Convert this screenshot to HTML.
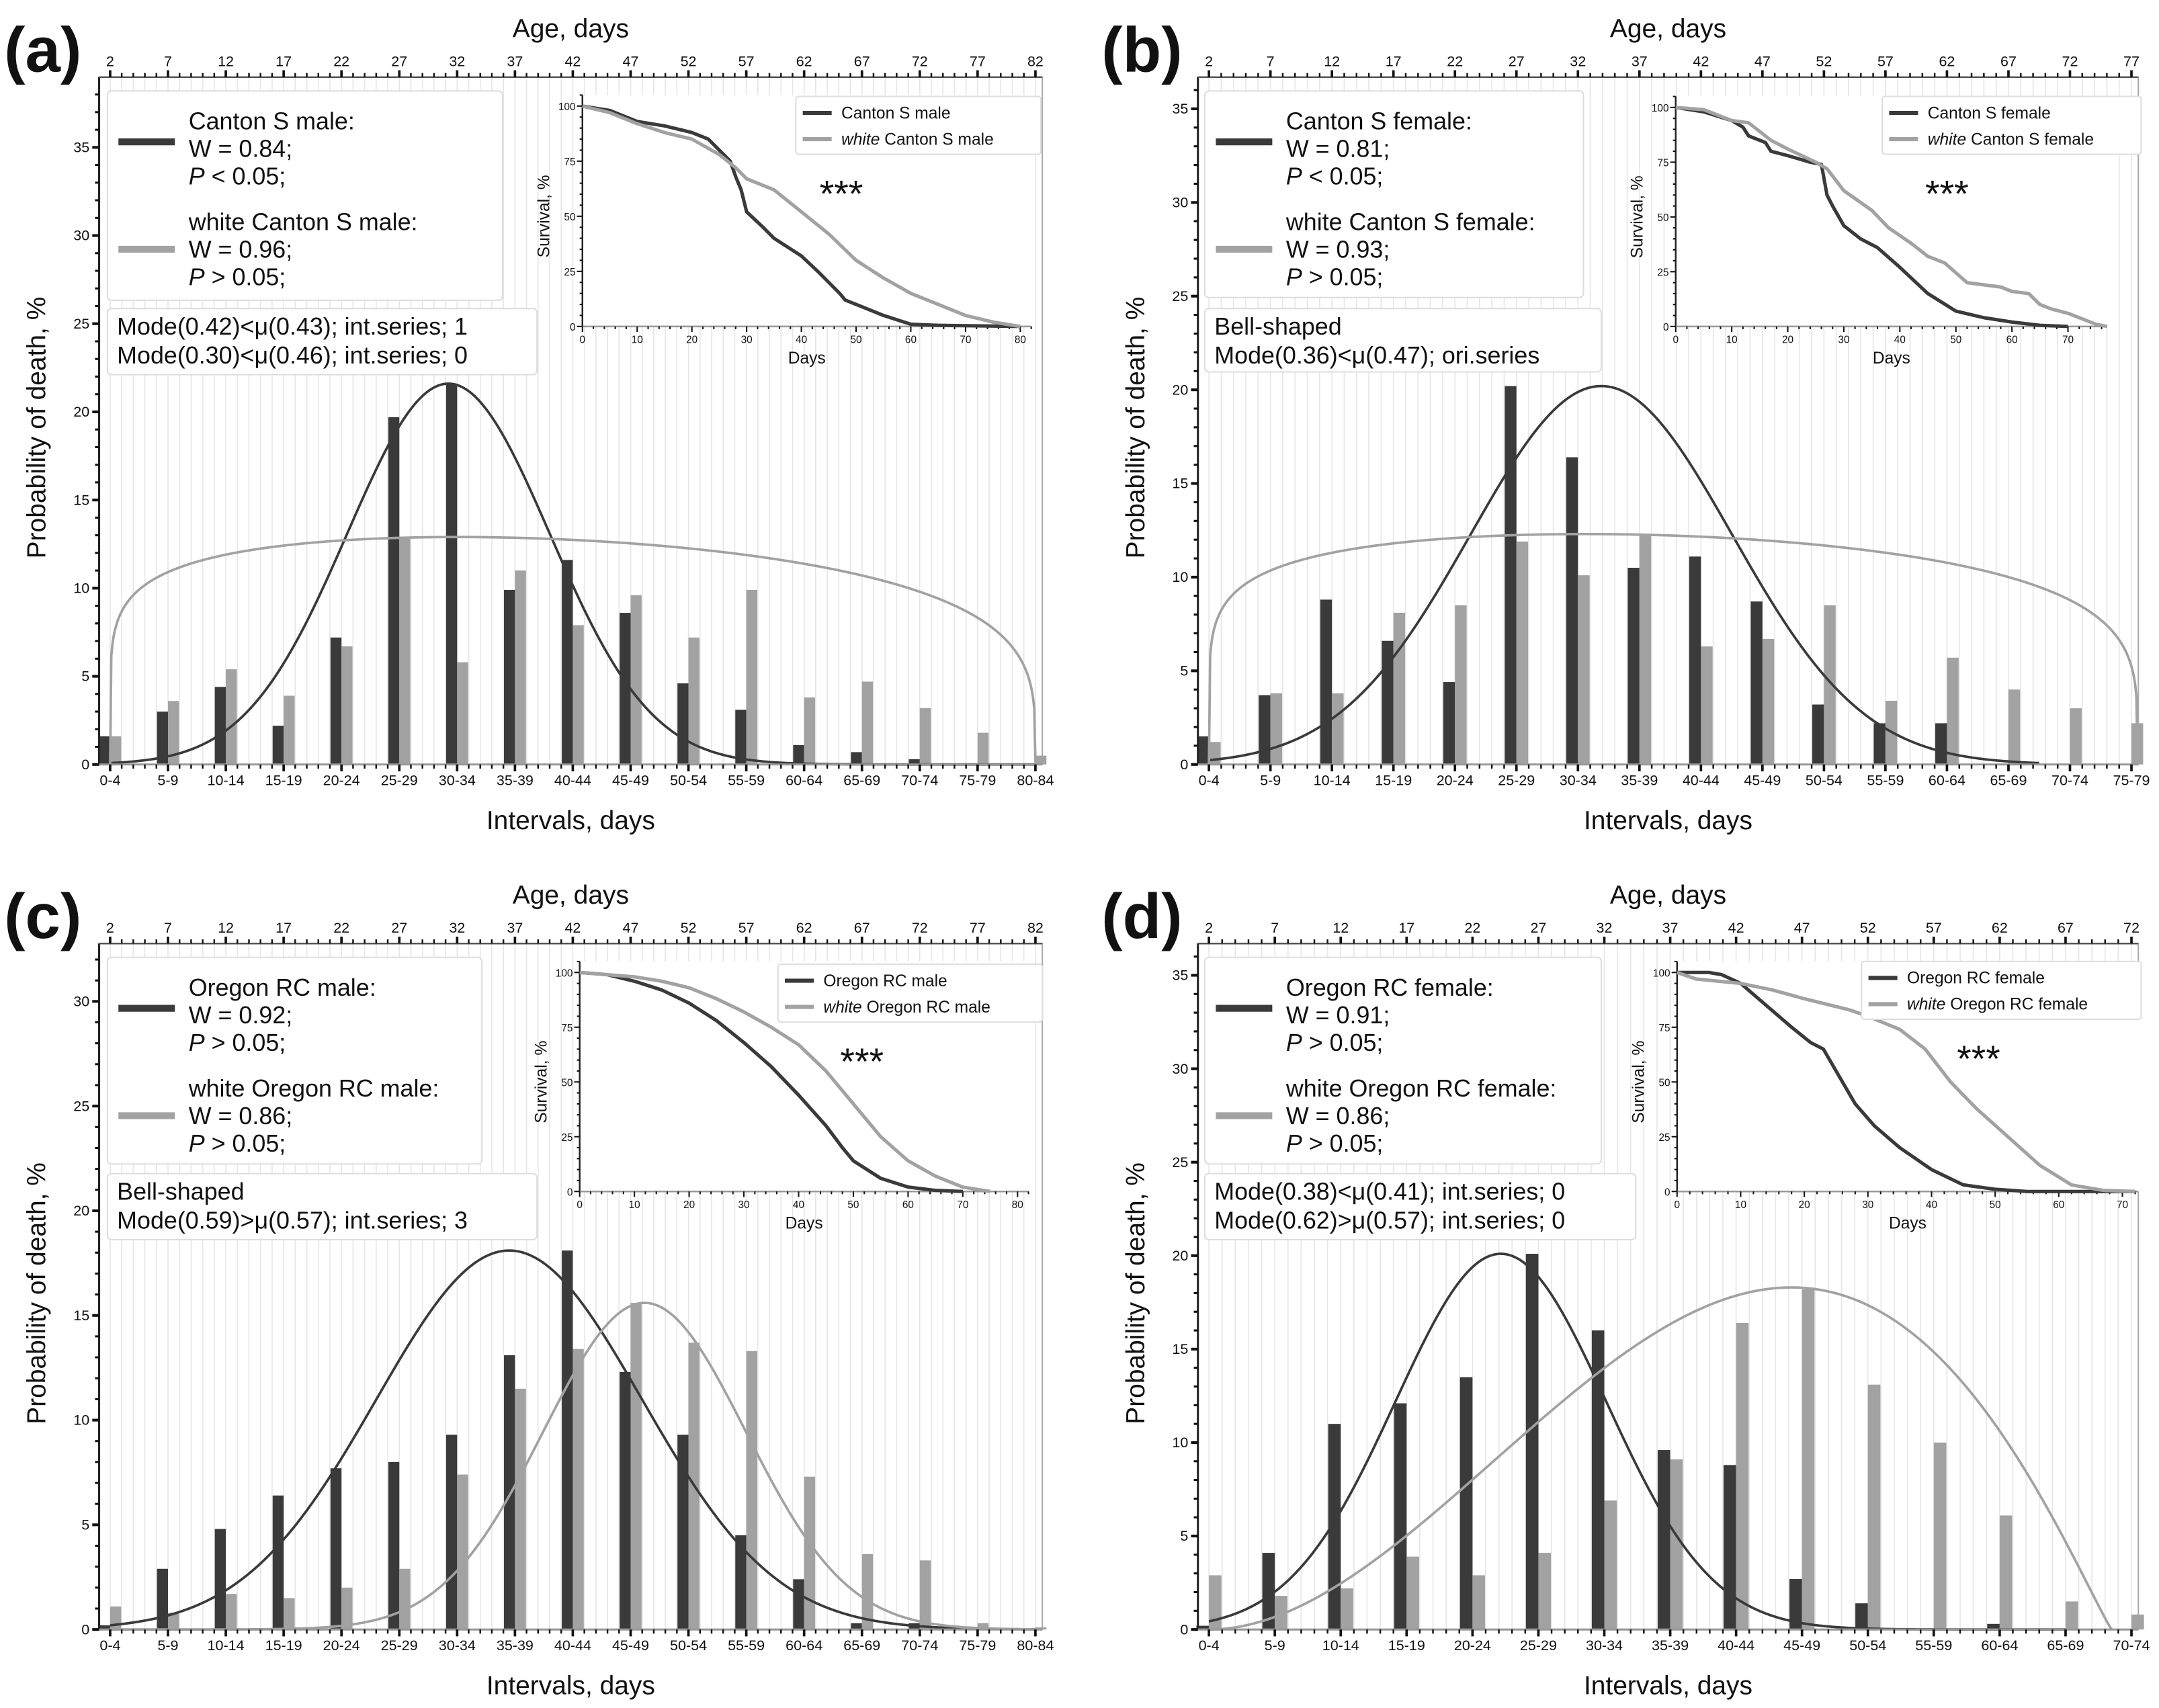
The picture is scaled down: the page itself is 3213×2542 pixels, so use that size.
<!DOCTYPE html>
<html><head><meta charset="utf-8">
<style>
html,body{margin:0;padding:0;background:#fff;}
svg{display:block;font-family:"Liberation Sans","DejaVu Sans",sans-serif;}
</style></head>
<body>
<svg id="fig" xmlns="http://www.w3.org/2000/svg" width="3213" height="2542" viewBox="0 0 1568 1240" preserveAspectRatio="none"></svg>
<script>
// ---------- data ----------
const catsA = ["0-4","5-9","10-14","15-19","20-24","25-29","30-34","35-39","40-44","45-49","50-54","55-59","60-64","65-69","70-74","75-79","80-84"];
const darkA = [1.6,3.0,4.4,2.2,7.2,19.7,21.6,9.9,11.6,8.6,4.6,3.1,1.1,0.7,0.3,0,0];
const lightA = [1.6,3.6,5.4,3.9,6.7,12.8,5.8,11.0,7.9,9.6,7.2,9.9,3.8,4.7,3.2,1.8,0.5];
const catsB = ["0-4","5-9","10-14","15-19","20-24","25-29","30-34","35-39","40-44","45-49","50-54","55-59","60-64","65-69","70-74","75-79"];
const darkB = [1.5,3.7,8.8,6.6,4.4,20.2,16.4,10.5,11.1,8.7,3.2,2.2,2.2,0,0,0];
const lightB = [1.2,3.8,3.8,8.1,8.5,11.9,10.1,12.3,6.3,6.7,8.5,3.4,5.7,4.0,3.0,2.2];
const catsC = catsA;
const darkC = [0.2,2.9,4.8,6.4,7.7,8.0,9.3,13.1,18.1,12.3,9.3,4.5,2.4,0.3,0.3,0,0];
const lightC = [1.1,0.8,1.7,1.5,2.0,2.9,7.4,11.5,13.4,15.6,13.7,13.3,7.3,3.6,3.3,0.3,0.1];
const catsD = ["0-4","5-9","10-14","15-19","20-24","25-29","30-34","35-39","40-44","45-49","50-54","55-59","60-64","65-69","70-74"];
const darkD = [0.2,4.1,11.0,12.1,13.5,20.1,16.0,9.6,8.8,2.7,1.4,0,0.3,0,0];
const lightD = [2.9,1.8,2.2,3.9,2.9,4.1,6.9,9.1,16.4,18.2,13.1,10.0,6.1,1.5,0.8];
// fitted curves: [type, p1, p2, amplitude, start, end] (category-index units)
const fitDarkA = ["gauss",5.85,1.75,21.6,0,16];
const fitLightA = ["beta",0.15,0.25,12.9,0,16];
const fitDarkB = ["gauss",6.38,2.13,20.2,0,13.5];
const fitLightB = ["beta",0.15,0.22,12.3,0,15.1];
const fitDarkC = ["gauss",6.9,2.3,18.1,0,16];
const fitLightC = ["gauss",9.24,1.75,15.6,0,16];
const fitDarkD = ["gauss",4.43,1.6,20.1,0,13];
const fitLightD = ["beta",2.0,1.1,18.3,0,13.7];
// survival curves: days / percent
const survDaysA1 = [0,5,10,15,20,23,25,27,28,29,30,33,35,40,43,45,47,48,50,55,60,65,80];
const survValsA1 = [100,98,93,91,88,85,80,75,68,62,52,45,40,32,25,20,15,12,10,5,1,0.5,0];
const survDaysA2 = [0,5,10,15,20,25,28,30,35,40,45,50,55,60,65,70,75,80];
const survValsA2 = [100,97,92,88,85,78,72,67,62,52,42,30,22,15,10,5,2,0];
const survDaysB1 = [0,5,10,12,13,16,17,20,24,26,27,28,30,33,36,40,45,50,55,60,65,70];
const survValsB1 = [100,98,94,91,87,84,80,78,75,74,60,55,46,40,36,27,15,7,4,2,0.5,0];
const survDaysB2 = [0,5,10,13,17,20,25,27,30,35,38,42,45,48,52,55,58,60,63,65,67,70,75,77];
const survValsB2 = [100,99,94,93,85,81,75,72,62,53,45,38,32,29,20,19,18,16,15,10,8,6,1,0];
const survDaysC1 = [0,5,10,15,20,25,30,35,40,45,48,50,55,60,65,70];
const survValsC1 = [100,99,96,92,86,78,68,57,44,30,20,14,6,2,0.5,0];
const survDaysC2 = [0,5,10,15,20,25,30,35,40,45,50,55,60,65,70,75];
const survValsC2 = [100,99,98,96,93,88,82,75,67,55,40,25,14,7,2,0];
const survDaysD1 = [0,5,7,10,14,18,21,23,25,28,31,35,40,45,50,55,72];
const survValsD1 = [100,100,99,95,85,75,68,65,55,40,30,20,10,3,1,0,0];
const survDaysD2 = [0,3,10,15,20,27,30,35,39,43,47,52,57,62,67,72];
const survValsD2 = [100,97,95,92,88,83,80,74,65,50,38,25,12,3,0.5,0];

const NS = "http://www.w3.org/2000/svg";
const svg = document.getElementById("fig");
const DARK = "#3a3a3a", LIGHT = "#a2a2a2";
function mk(tag, attrs, parent){
  const e = document.createElementNS(NS, tag);
  for (const k in attrs) e.setAttribute(k, attrs[k]);
  (parent||svg).appendChild(e);
  return e;
}
function txt(s, x, y, size, parent, anchor, extra){
  const t = mk("text", Object.assign({x:x, y:y, "font-size":size, "text-anchor":anchor||"start", fill:"#111"}, extra||{}), parent);
  t.textContent = s;
  return t;
}
function fitVal(f, t){
  if (t < f[4] || t > f[5]) return null;
  if (f[0] === "gauss") { const z = (t - f[1]) / f[2]; return f[3] * Math.exp(-0.5 * z * z); }
  const u = (t - f[4]) / (f[5] - f[4]);
  const a = f[1], b = f[2], m = a / (a + b);
  const peak = Math.pow(m, a) * Math.pow(1 - m, b);
  return f[3] * Math.pow(Math.max(u,0), a) * Math.pow(Math.max(1 - u,0), b) / peak;
}

function panel(P){
  const g = mk("g", {});
  
  
  const n = P.cats.length;
  const sp = (P.xLast - P.xFirst) / (n - 1);
  const xCat = i => P.xFirst + i * sp;
  const yv = v => P.y0 - v * P.ppu;
  const xAge = d => P.xFirst + (d - 2) / 5 * sp;

  const lab = txt("(" + P.id + ")", P.labX, P.labY, 46, g, "start", {"font-weight":"bold"});
  
  

  const grid = mk("g", {stroke:"#e6e6e6", "stroke-width":0.8}, g);
  
  
  for (let d = 0; d < 200; d++) {
    const x = xAge(d);
    if (x <= P.left) continue;
    if (x >= P.right) break;
    mk("line", {x1:x, x2:x, y1:P.top, y2:P.y0}, grid);
  }
  const frame = mk("rect", {x:P.left, y:P.top, width:P.right-P.left, height:P.y0-P.top, fill:"none", stroke:"#aaa", "stroke-width":1}, g);
  
  

  const bw = sp * 0.19;
  for (let i = 0; i < n; i++) {
    if (P.dark[i] > 0) {
      const r = mk("rect", {x:xCat(i)-bw, y:yv(P.dark[i]), width:bw, height:P.y0-yv(P.dark[i]), fill:DARK}, g);
      
      
    }
    if (P.light[i] > 0) {
      const r = mk("rect", {x:xCat(i), y:yv(P.light[i]), width:bw, height:P.y0-yv(P.light[i]), fill:LIGHT}, g);
      
      
    }
  }
  [[P.fitDark, DARK, 'fit-curve-dark'], [P.fitLight, LIGHT, 'fit-curve-light']].forEach(c => {
    let pts = [];
    for (let t = c[0][4]; t <= c[0][5] + 1e-9; t += 0.02) {
      const v = fitVal(c[0], t);
      if (v !== null) pts.push(xCat(t).toFixed(2) + "," + yv(v).toFixed(2));
    }
    const pl = mk("polyline", {points:pts.join(" "), fill:"none", stroke:c[1], "stroke-width":1.8}, g);
    
    
  });

  mk("line", {x1:P.left, x2:P.left, y1:P.top, y2:P.y0, stroke:"#222", "stroke-width":1.5}, g);
  mk("line", {x1:P.left, x2:P.right, y1:P.y0, y2:P.y0, stroke:"#999", "stroke-width":1.5}, g);
  mk("line", {x1:P.left, x2:P.right, y1:P.top, y2:P.top, stroke:"#555", "stroke-width":1.2}, g);
  const yax = mk("g", {}, g);
  
  
  for (let v = 0; yv(v) >= P.top; v++) {
    const maj = v % 5 === 0;
    mk("line", {x1:P.left - (maj?5:3), x2:P.left, y1:yv(v), y2:yv(v), stroke:"#111", "stroke-width":maj?2:1.5}, yax);
    if (maj && v <= P.yLabMax) txt(String(v), P.left - 7, yv(v) + 3.5, 10.5, yax, "end");
  }
  const xax = mk("g", {}, g);
  
  
  for (let d = 0; d < 200; d++) {
    const x = xAge(d);
    if (x < P.left) continue;
    if (x > P.right) break;
    const maj = (d - 2) % 5 === 0;
    mk("line", {x1:x, x2:x, y1:P.y0, y2:P.y0 + (maj?5:3), stroke:"#111", "stroke-width":maj?1.8:1.2}, xax);
  }
  for (let i = 0; i < n; i++) txt(P.cats[i], xCat(i), P.y0 + 15, 10.5, xax, "middle");
  const tax = mk("g", {}, g);
  
  
  for (let d = 0; d < 200; d++) {
    const x = xAge(d);
    if (x < P.left) continue;
    if (x > P.right) break;
    const maj = (d - 2) % 5 === 0;
    mk("line", {x1:x, x2:x, y1:P.top, y2:P.top - (maj?5:3), stroke:"#111", "stroke-width":maj?1.8:1.2}, tax);
    if (maj) txt(String(d), x, P.top - 8, 10.5, tax, "middle");
  }
  const at = txt("Age, days", (P.left+P.right)/2, P.top - 29, 19, g, "middle");
  
  
  const bt = txt("Intervals, days", (P.left+P.right)/2, P.y0 + 47, 19, g, "middle");
  
  
  const yt = txt("Probability of death, %", 0, 0, 19, g, "middle", {transform:"translate(" + (P.left - 39) + "," + ((P.top+P.y0)/2 + 5) + ") rotate(-90)"});
  
  

  const lg = mk("g", {}, g);
  
  
  const L = P.leg;
  mk("rect", {x:L[0], y:L[1], width:L[2], height:L[3], rx:3, fill:"#fff", stroke:"#ddd", "stroke-width":1}, lg);
  mk("line", {x1:L[0]+8, x2:L[0]+49, y1:L[1]+37, y2:L[1]+37, stroke:DARK, "stroke-width":5}, lg);
  mk("line", {x1:L[0]+8, x2:L[0]+49, y1:L[1]+115, y2:L[1]+115, stroke:LIGHT, "stroke-width":5}, lg);
  const lx = L[0] + 59;
  txt(P.name1 + ":", lx, L[1]+28, 17.5, lg);
  txt("W = " + P.w1 + ";", lx, L[1]+48, 17.5, lg);
  let t = txt("", lx, L[1]+68, 17.5, lg);
  t.innerHTML = '<tspan font-style="italic">P</tspan> ' + P.p1 + ' 0.05;';
  txt("white " + P.name1 + ":", lx, L[1]+101, 17.5, lg);
  txt("W = " + P.w2 + ";", lx, L[1]+121, 17.5, lg);
  t = txt("", lx, L[1]+141, 17.5, lg);
  t.innerHTML = '<tspan font-style="italic">P</tspan> ' + P.p2 + ' 0.05;';
  const ib = mk("g", {}, g);
  
  
  const B = P.box;
  mk("rect", {x:B[0], y:B[1], width:B[2], height:B[3], rx:3, fill:"#fff", stroke:"#ddd", "stroke-width":1}, ib);
  txt(P.info[0], B[0]+7, B[1]+19, 17.5, ib);
  txt(P.info[1], B[0]+7, B[1]+40, 17.5, ib);

  const I = P.inset; // [x0px, pxPerDay, xMaxDay, yTop(100), yBot(0)]
  const ig = mk("g", {}, g);
  
  
  const ix = d => I[0] + d * I[1];
  const iy = v => I[4] - (I[4] - I[3]) * v / 100;
  const iRight = ix(I[2]);
  mk("rect", {x:I[0]-1, y:I[3]-8, width:iRight-I[0]+2, height:I[4]-I[3]+8, fill:"#fff"}, ig);
  mk("line", {x1:I[0], x2:I[0], y1:I[3]-8, y2:I[4], stroke:"#222", "stroke-width":1.2}, ig);
  mk("line", {x1:I[0], x2:iRight, y1:I[4], y2:I[4], stroke:"#999", "stroke-width":1.2}, ig);
  for (let v = 0; v <= 105; v += 5) {
    const maj = v % 25 === 0;
    mk("line", {x1:I[0]-(maj?4:2), x2:I[0], y1:iy(v), y2:iy(v), stroke:"#111", "stroke-width":1}, ig);
    if (maj && v <= 100) txt(String(v), I[0]-5, iy(v)+3, 7.5, ig, "end");
  }
  for (let d = 0; d <= I[2]; d += 2) {
    const maj = d % 10 === 0;
    mk("line", {x1:ix(d), x2:ix(d), y1:I[4], y2:I[4]+(maj?4:2), stroke:"#111", "stroke-width":1}, ig);
    if (maj) txt(String(d), ix(d), I[4]+12, 7.5, ig, "middle");
  }
  txt("Days", (I[0]+iRight)/2, I[4]+27, 12, ig, "middle");
  txt("Survival, %", 0, 0, 12, ig, "middle", {transform:"translate(" + (I[0]-24) + "," + ((I[3]+I[4])/2) + ") rotate(-90)"});
  [[P.s1d, P.s1v, DARK, 'survival-line-dark'], [P.s2d, P.s2v, LIGHT, 'survival-line-light']].forEach(s => {
    const pts = s[0].map((d, k) => ix(d).toFixed(2) + "," + iy(s[1][k]).toFixed(2)).join(" ");
    const pl = mk("polyline", {points:pts, fill:"none", stroke:s[2], "stroke-width":2.5, "stroke-linejoin":"round"}, ig);
    
    
  });
  const IL = P.ileg;
  const il = mk("g", {}, ig);
  
  
  mk("rect", {x:IL[0], y:IL[1], width:IL[2], height:42, rx:2, fill:"#fff", stroke:"#ddd", "stroke-width":1}, il);
  mk("line", {x1:IL[0]+5, x2:IL[0]+26, y1:IL[1]+12, y2:IL[1]+12, stroke:DARK, "stroke-width":3}, il);
  mk("line", {x1:IL[0]+5, x2:IL[0]+26, y1:IL[1]+31, y2:IL[1]+31, stroke:LIGHT, "stroke-width":3}, il);
  txt(P.name1, IL[0]+33, IL[1]+16, 12, il);
  const w2 = txt("", IL[0]+33, IL[1]+35, 12, il);
  w2.innerHTML = '<tspan font-style="italic">white</tspan> ' + P.name1;
  const st = txt("***", P.star[0], P.star[1], 27, ig, "middle");
  
  
}

panel({id:"a", cats:catsA, dark:darkA, light:lightA, fitDark:fitDarkA, fitLight:fitLightA,
  left:72, right:757, top:56, y0:555, ppu:12.8, yLabMax:35, xFirst:80, xLast:752, labX:3, labY:52,
  name1:"Canton S male", w1:"0.84", p1:"<", w2:"0.96", p2:">",
  leg:[78,66,287,152], box:[78,224,312,48], info:["Mode(0.42)<\u03bc(0.43); int.series; 1","Mode(0.30)<\u03bc(0.46); int.series; 0"],
  inset:[423,3.975,82,77,237], ileg:[578,70,178], star:[611,150],
  s1d:survDaysA1, s1v:survValsA1, s2d:survDaysA2, s2v:survValsA2});
panel({id:"b", cats:catsB, dark:darkB, light:lightB, fitDark:fitDarkB, fitLight:fitLightB,
  left:870, right:1553, top:56, y0:555, ppu:13.6, yLabMax:35, xFirst:878, xLast:1548, labX:800, labY:52,
  name1:"Canton S female", w1:"0.81", p1:"<", w2:"0.93", p2:">",
  leg:[875,66,275,150], box:[875,224,288,46], info:["Bell-shaped","Mode(0.36)<\u03bc(0.47); ori.series"],
  inset:[1217,4.07,77,78,237], ileg:[1367,70,188], star:[1414,150],
  s1d:survDaysB1, s1v:survValsB1, s2d:survDaysB2, s2v:survValsB2});
panel({id:"c", cats:catsC, dark:darkC, light:lightC, fitDark:fitDarkC, fitLight:fitLightC,
  left:72, right:757, top:685, y0:1183, ppu:15.2, yLabMax:30, xFirst:80, xLast:752, labX:3, labY:681,
  name1:"Oregon RC male", w1:"0.92", p1:">", w2:"0.86", p2:">",
  leg:[78,695,272,150], box:[78,852,312,48], info:["Bell-shaped","Mode(0.59)>\u03bc(0.57); int.series; 3"],
  inset:[421,3.975,82,706,865], ileg:[565,700,192], star:[626,780],
  s1d:survDaysC1, s1v:survValsC1, s2d:survDaysC2, s2v:survValsC2});
panel({id:"d", cats:catsD, dark:darkD, light:lightD, fitDark:fitDarkD, fitLight:fitLightD,
  left:870, right:1553, top:685, y0:1183, ppu:13.57, yLabMax:35, xFirst:878, xLast:1548, labX:800, labY:681,
  name1:"Oregon RC female", w1:"0.91", p1:">", w2:"0.86", p2:">",
  leg:[875,695,288,150], box:[875,852,313,48], info:["Mode(0.38)<\u03bc(0.41); int.series; 0","Mode(0.62)>\u03bc(0.57); int.series; 0"],
  inset:[1218,4.62,72.5,706,865], ileg:[1352,698,203], star:[1437,778],
  s1d:survDaysD1, s1v:survValsD1, s2d:survDaysD2, s2v:survValsD2});
</script>
</body></html>
